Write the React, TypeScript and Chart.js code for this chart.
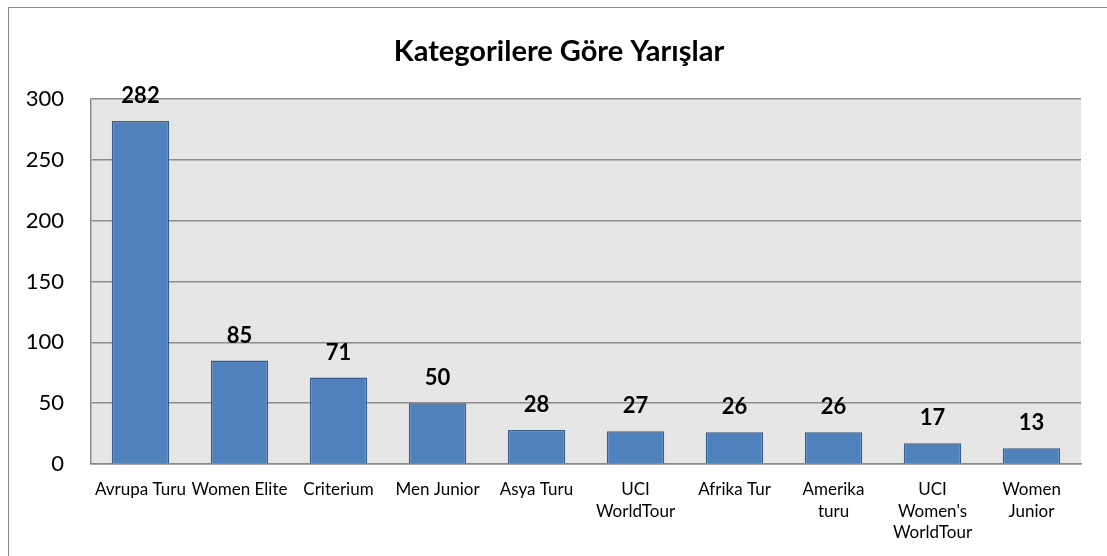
import React, { useEffect, useRef } from "react";
import { Chart, registerables } from "chart.js";

Chart.register(...registerables);

const categories: (string | string[])[] = [
  "Avrupa Turu",
  "Women Elite",
  "Criterium",
  "Men Junior",
  "Asya Turu",
  ["UCI", "WorldTour"],
  "Afrika Tur",
  ["Amerika", "turu"],
  ["UCI", "Women's", "WorldTour"],
  ["Women", "Junior"],
];
const raceCounts = [282, 85, 71, 50, 28, 27, 26, 26, 17, 13];
const yTicks = [0, 50, 100, 150, 200, 250, 300];
const chartTitle = "Kategorilere Göre Yarışlar";

const FONT = "Lato, 'Noto Sans', 'DejaVu Sans', sans-serif";

const decorPlugin = {
  id: "decor",
  beforeDraw(chart: any) {
    const { ctx, chartArea } = chart;
    ctx.save();
    ctx.fillStyle = "#ffffff";
    ctx.fillRect(0, 0, chart.width, chart.height);
    ctx.strokeStyle = "#8a8a8a";
    ctx.lineWidth = 1;
    ctx.strokeRect(8.5, 7.5, chart.width + 10, chart.height + 10);
    ctx.fillStyle = "#e6e6e6";
    ctx.fillRect(chartArea.left, chartArea.top, chartArea.right - chartArea.left, chartArea.bottom - chartArea.top);
    ctx.restore();
  },
  afterDraw(chart: any) {
    const { ctx } = chart;
    ctx.save();
    ctx.fillStyle = "#000000";
    ctx.font = `bold 29px ${FONT}`;
    ctx.textAlign = "center";
    ctx.textBaseline = "middle";
    ctx.fillText(chartTitle, 559, 52);
    const meta = chart.getDatasetMeta(0);
    ctx.font = `bold 22px ${FONT}`;
    meta.data.forEach((bar: any, i: number) => {
      ctx.fillText(String(raceCounts[i]), bar.x, bar.y - 25);
    });
    ctx.restore();
  },
};

export default function App() {
  const ref = useRef<HTMLCanvasElement | null>(null);
  useEffect(() => {
    if (!ref.current) return;
    const chart = new Chart(ref.current, {
      type: "bar",
      data: {
        labels: categories,
        datasets: [
          {
            data: raceCounts,
            backgroundColor: "#4f81bd",
            borderColor: "#385d8a",
            borderWidth: 1.5,
            categoryPercentage: 1,
            barPercentage: 0.58,
          },
        ],
      },
      options: {
        animation: false,
        responsive: false,
        layout: { padding: { top: 99, right: 26, left: 0, bottom: 0 } },
        plugins: {
          legend: { display: false },
          title: { display: false },
          tooltip: { enabled: false },
        },
        scales: {
          x: {
            grid: { display: false, drawTicks: false },
            border: { display: true, color: "#8a8a8a", width: 1.5 },
            ticks: {
              color: "#000000",
              font: { family: FONT, size: 17, lineHeight: 1.27 },
              padding: 15,
              maxRotation: 0,
              autoSkip: false,
            },
            afterFit(scale: any) {
              scale.height = 92;
            },
          },
          y: {
            min: 0,
            max: 300,
            afterBuildTicks(scale: any) {
              scale.ticks = yTicks.map((v) => ({ value: v }));
            },
            grid: { color: "#8c8c8c", lineWidth: 1.5, drawTicks: false },
            border: { display: true, color: "#8a8a8a", width: 1.5 },
            ticks: {
              color: "#000000",
              font: { family: FONT, size: 22 },
              padding: 27,
            },
            afterFit(scale: any) {
              scale.width = 91;
            },
          },
        },
      },
      plugins: [decorPlugin],
    });
    return () => chart.destroy();
  }, []);
  return (
    <canvas
      ref={ref}
      width={1107}
      height={556}
      style={{ position: "fixed", left: 0, top: 0, width: 1107, height: 556 }}
    />
  );
}
